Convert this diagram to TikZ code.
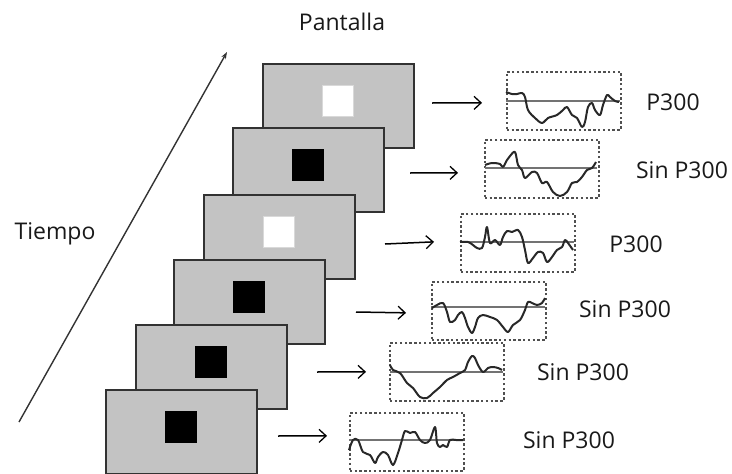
\documentclass[tikz,border=0pt]{standalone}
\usepackage{fontspec}
\setmainfont{Open Sans}
\usetikzlibrary{arrows.meta,calc}
\definecolor{screengray}{RGB}{195,195,195}
\definecolor{frame}{RGB}{50,50,50}
\definecolor{dashgray}{RGB}{80,80,80}
\definecolor{wave}{RGB}{40,40,40}
\definecolor{basegray}{RGB}{115,115,115}
\tikzset{
  screen/.style={draw=frame, fill=screengray, line width=2pt, minimum width=151pt,
    minimum height=84pt, inner sep=0pt, anchor=north west},
  whitesq/.style={draw=white!85!black, fill=white, line width=0.6pt, minimum size=31pt, inner sep=0pt},
  blacksq/.style={draw=black, fill=black, minimum size=31pt, inner sep=0pt},
  wavebox/.style={draw=dashgray, line width=1.7pt, dash pattern=on 2.4pt off 2.4pt,
    minimum width=114pt, minimum height=58pt, inner sep=0pt, anchor=north west},
  stimarrow/.style={line width=1.5pt, -{Straight Barb[length=7pt,width=13pt,line width=1.3pt]}},
  baseline/.style={draw=basegray, line width=1.8pt},
  trace/.style={draw=wave, line width=2pt, line join=round, smooth, tension=0.55},
  label/.style={font=\fontsize{23}{27}\selectfont, text=black!90, inner sep=0pt},
}
\begin{document}
\begin{tikzpicture}[x=1pt,y=-1pt]
\useasboundingbox (0,0) rectangle (732,474);

% headings and time axis
\node[label] (pantalla) at (342,22) {Pantalla};
\node[label] (tiempo) at (55,234) {Tiempo};
\coordinate (t0) at (19,422);
\coordinate (t1) at (227,52);
\draw[draw=black!80, line width=1.4pt, -{Stealth[length=7pt,width=5pt]}] (t0) -- (t1);

% stacked screens, back to front
\node[screen] (s1) at (262,63) {};
\node[whitesq] (q1) at ($(s1.north west)+(75.5,38)$) {};
\node[screen] (s2) at (232,127) {};
\node[blacksq] (q2) at ($(s2.north west)+(75.5,38)$) {};
\node[screen] (s3) at (203,194) {};
\node[whitesq] (q3) at ($(s3.north west)+(75.5,38)$) {};
\node[screen] (s4) at (173,259) {};
\node[blacksq] (q4) at ($(s4.north west)+(75.5,38)$) {};
\node[screen] (s5) at (135,324) {};
\node[blacksq] (q5) at ($(s5.north west)+(75.5,38)$) {};
\node[screen] (s6) at (105,389) {};
\node[blacksq] (q6) at ($(s6.north west)+(75.5,38)$) {};

% response windows
\node[wavebox] (w1) at (506,71) {};
\node[wavebox] (w2) at (484,139) {};
\node[wavebox] (w3) at (460,213) {};
\node[wavebox] (w4) at (431,281) {};
\node[wavebox] (w5) at (389,342) {};
\node[wavebox] (w6) at (349,412) {};

% baselines
\draw[baseline] (506,101) -- (620,101);
\draw[baseline] (485,168) -- (597,168);
\draw[baseline] (460,242) -- (574,242);
\draw[baseline] (431,307) -- (545,307);
\draw[baseline] (390,372) -- (503,372);
\draw[baseline] (349,440) -- (463,440);

% traces
\draw[trace] plot coordinates {(506,92) (512,94) (517,94) (522,93) (525,97) (528,110) (535,118)
  (542,123) (548,118) (557,115) (563,110) (567,107) (572,115) (577,118) (582,127) (585,122)
  (588,107) (592,103) (595,110) (600,115) (603,105) (607,95) (610,97) (615,101) (619,102)};
\draw[trace] plot coordinates {(485,165) (492,163) (500,164) (503,167) (507,160) (510,156)
  (515,152) (518,165) (522,170) (525,178) (532,172) (537,173) (542,183) (547,182) (553,192)
  (560,196) (567,192) (572,183) (577,182) (582,177) (587,170) (592,168) (596,162)};
\draw[trace] plot coordinates {(460,242) (468,242) (473,245) (477,248) (482,248) (485,237)
  (487,227) (490,243) (495,240) (500,245) (503,237) (507,231) (512,232) (518,230) (522,237)
  (525,250) (528,263) (533,258) (538,252) (543,253) (547,262) (552,257) (557,250) (562,247)
  (565,240) (568,243) (573,250)};
\draw[trace] plot coordinates {(432,308) (437,305) (443,303) (447,312) (450,322) (455,320)
  (458,315) (462,312) (465,318) (468,327) (472,333) (475,327) (478,318) (483,315) (490,317)
  (497,320) (503,327) (508,332) (513,325) (520,320) (525,310) (528,302) (532,303) (537,305)
  (542,303) (545,298)};
\draw[trace] plot coordinates {(390,365) (393,370) (400,373) (407,383) (413,388) (420,397)
  (427,398) (433,393) (440,387) (447,380) (453,377) (460,373) (465,370) (468,362) (472,356)
  (475,358) (478,365) (483,372) (488,368) (493,367) (498,368) (502,370)};
\draw[trace] plot coordinates {(349,450) (353,440) (358,440) (363,452) (370,455) (375,463)
  (378,457) (383,452) (388,455) (393,465) (398,453) (402,440) (405,431) (410,433) (415,432)
  (420,440) (425,443) (430,440) (435,427) (437,443) (440,447) (443,445) (447,447) (450,440)
  (456,440) (463,440)};

% stimulus to response arrows
\draw[stimarrow] ($(s1.east)+(17,-3)$) -- ($(w1.west)+(-24,2)$);
\draw[stimarrow] ($(s2.east)+(25,3)$) -- ($(w2.west)+(-26,4)$);
\draw[stimarrow] ($(s3.east)+(29,7)$) -- ($(w3.west)+(-26,-1)$);
\draw[stimarrow] ($(s4.east)+(30,10)$) -- ($(w4.west)+(-25,2)$);
\draw[stimarrow] ($(s5.east)+(29,5)$) -- ($(w5.west)+(-23,0)$);
\draw[stimarrow] ($(s6.east)+(20,4)$) -- ($(w6.west)+(-22,-6)$);

% outcome labels
\node[label] (l1) at (673,102) {P300};
\node[label] (l2) at (682,170) {Sin P300};
\node[label] (l3) at (636,244) {P300};
\node[label] (l4) at (625,309) {Sin P300};
\node[label] (l5) at (583,372) {Sin P300};
\node[label] (l6) at (569,440) {Sin P300};
\end{tikzpicture}
\end{document}
